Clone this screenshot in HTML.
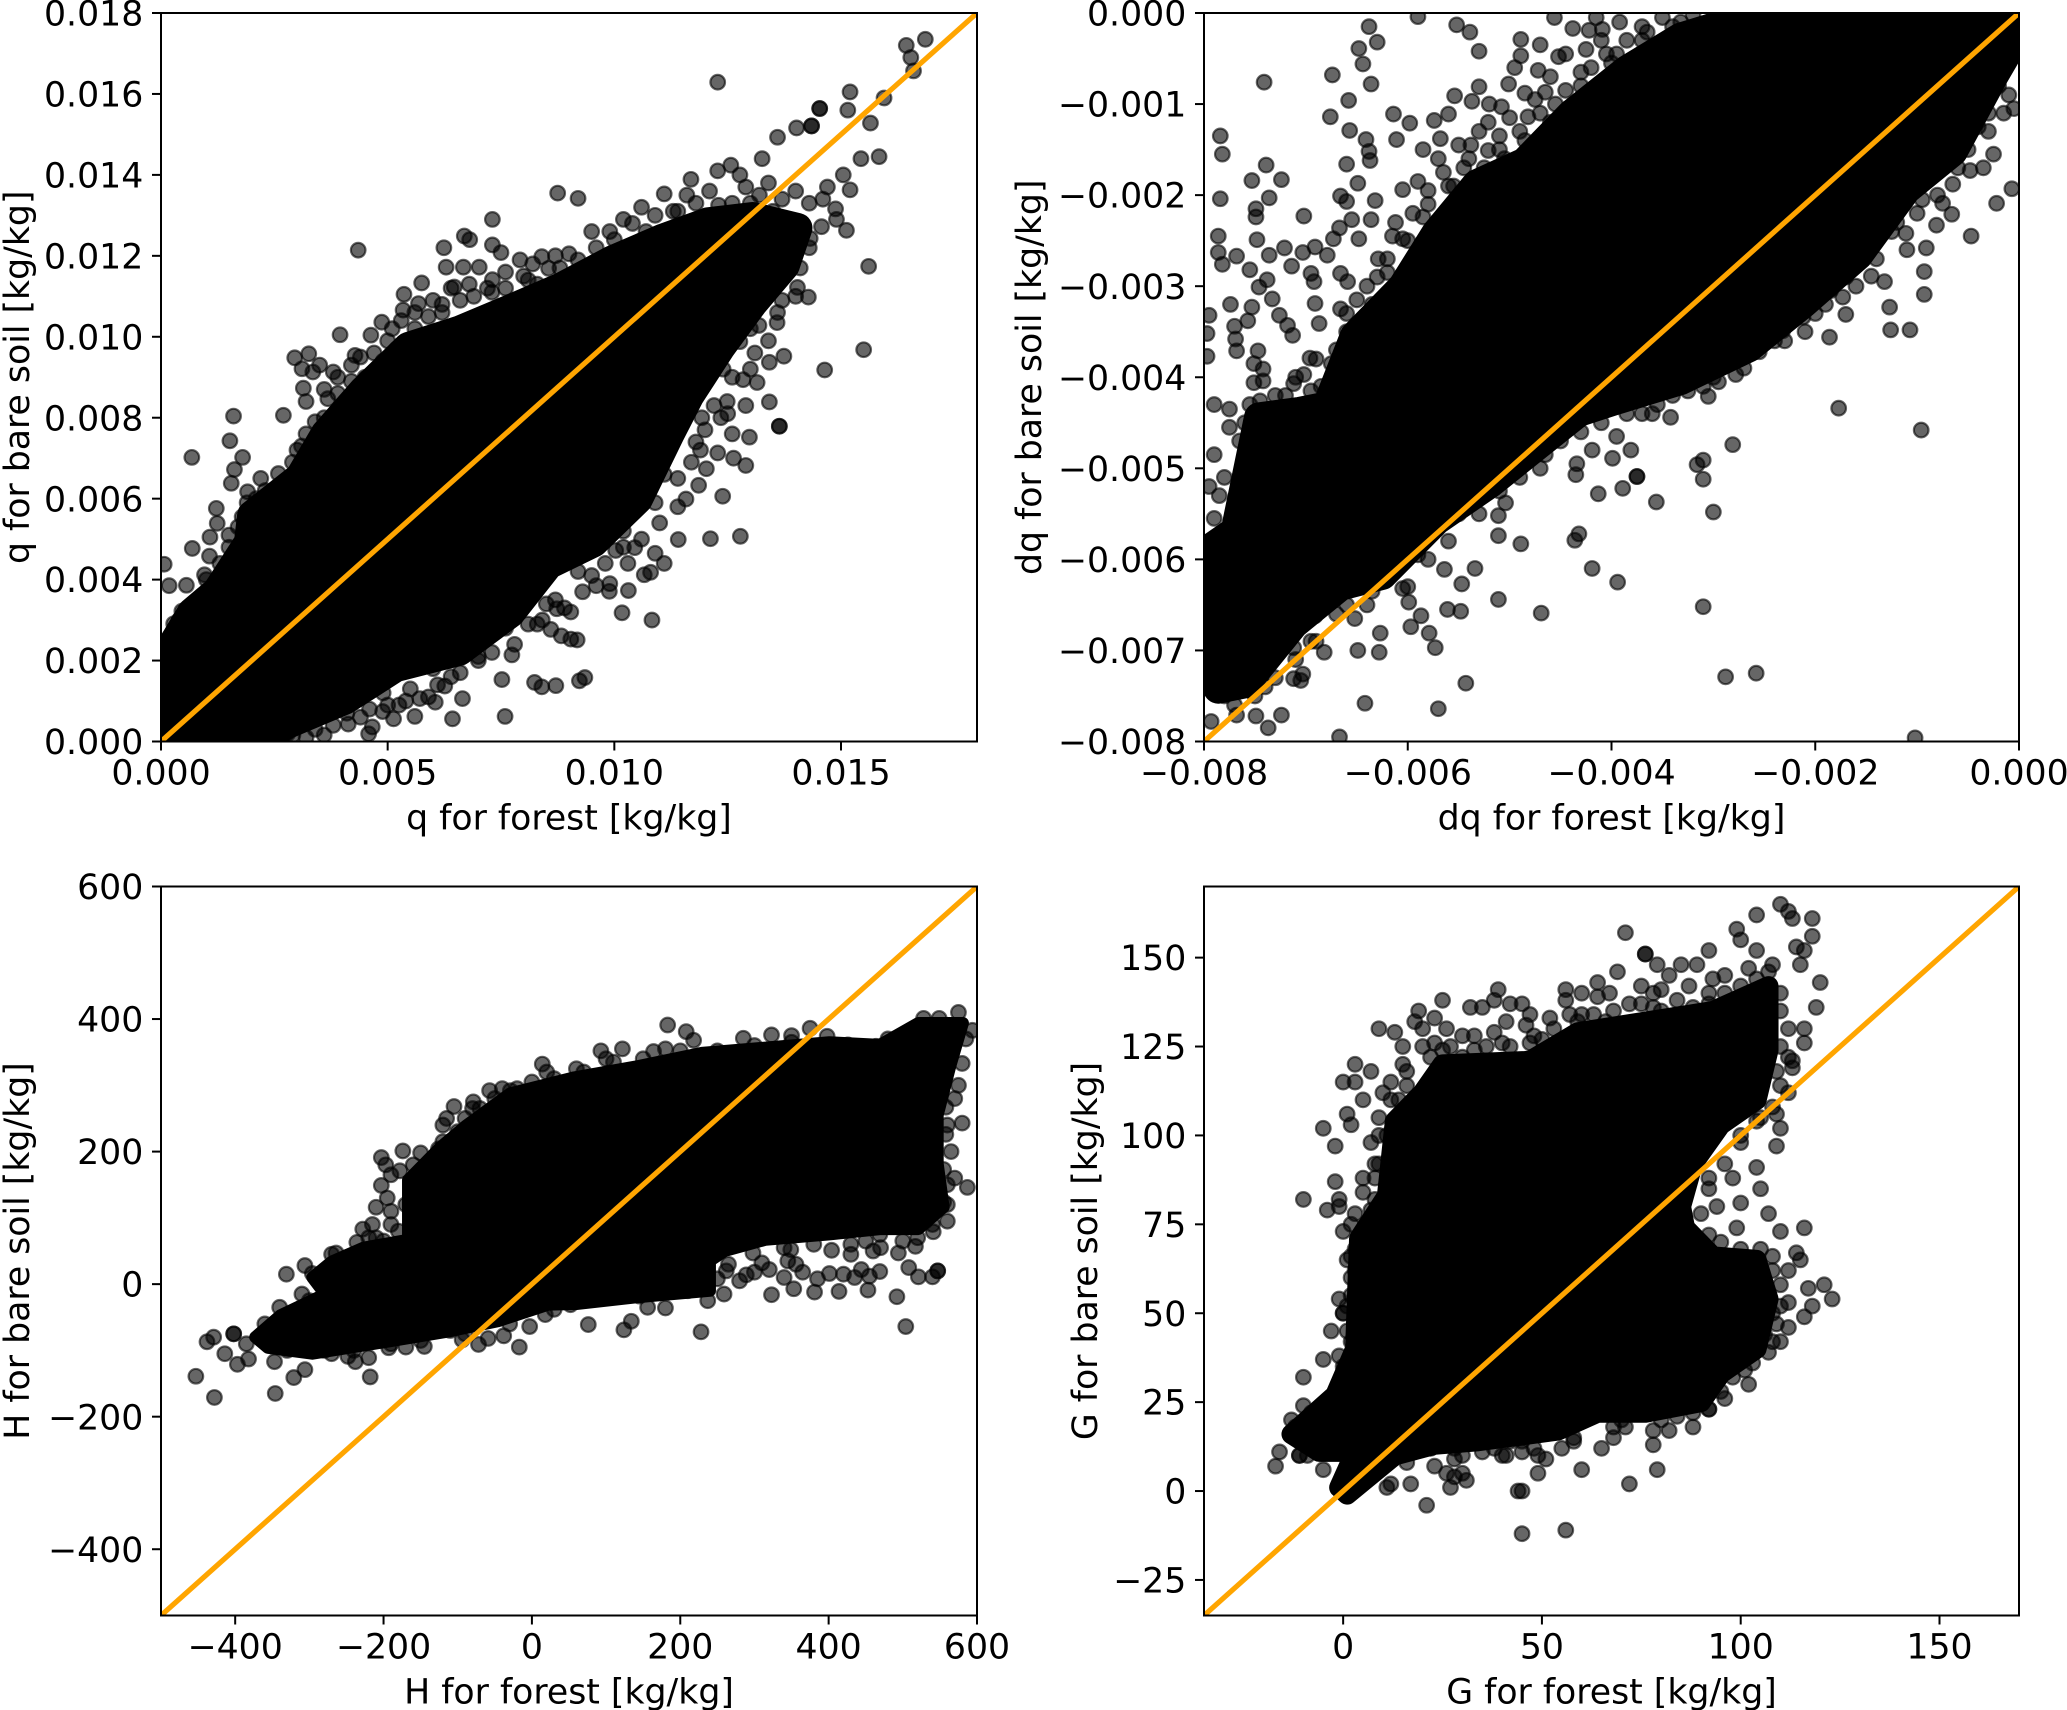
<!DOCTYPE html>
<html lang="en">
<head>
<meta charset="utf-8">
<title>Forest vs bare soil scatter comparison</title>
<style>
html,body{margin:0;padding:0;background:#fff;}
svg{display:block;}
text{font-family:"DejaVu Sans","Liberation Sans",sans-serif;font-size:34.7px;fill:#000;}
</style>
</head>
<body>
<svg id="fig" xmlns="http://www.w3.org/2000/svg" width="2067" height="1710" viewBox="0 0 2067 1710">
<rect width="2067" height="1710" fill="#fff"/>
</svg>
<script>
/* ---------- panel 1: q (values in 1e-3 kg/kg) ---------- */
const qXTicks = [0,5,10,15];
const qXLabels = ["0.000","0.005","0.010","0.015"];
const qYTicks = [0,2,4,6,8,10,12,14,16,18];
const qYLabels = ["0.000","0.002","0.004","0.006","0.008","0.010","0.012","0.014","0.016","0.018"];
const qCore = [[0,1.9],[.68,3.18],[1.24,3.71],[1.94,4.92],[2.01,5.59],[3.07,6.53],[3.63,7.6],[4.47,8.67],[5.46,9.75],[6.58,10.15],[7.71,10.68],[8.83,11.22],[9.96,11.89],[11.08,12.43],[12.07,12.83],[13.05,12.96],[14.04,12.69],[13.76,11.76],[13.05,10.82],[12.35,9.75],[11.65,8.54],[11.22,7.6],[10.52,5.99],[9.54,4.92],[8.55,4.38],[7.71,3.18],[6.58,2.24],[5.18,1.84],[4.05,1.03],[2.78,.43],[2.08,0],[0,0]];
const qPoints = [[16.86,17.35],[16.44,17.2],[16.54,16.9],[16.6,16.57],[12.28,16.29],[15.95,15.9],[15.2,16.05],[15.15,15.6],[14.53,15.64],[14.53,15.64],[15.65,15.28],[14.02,15.16],[14.35,15.21],[14.35,15.21],[13.6,14.93],[15.44,14.4],[15.84,14.45],[15.05,14],[13.26,14.4],[12.57,14.24],[12.28,14.1],[12.77,14],[15.2,13.63],[15.12,12.63],[15.61,11.74],[15.5,9.68],[14.64,9.18],[13.64,7.79],[13.64,7.79],[13.74,9.52],[13.42,9.37],[13.15,8.87],[13.42,8.39],[12.98,7.52],[12.9,6.82],[12.03,6.74],[12.39,6.06],[12.78,5.07],[12.12,5.01],[11.41,4.99],[11.1,4.4],[10.83,3],[10.17,3.18],[10.31,3.73],[14.28,10.98],[13.59,10.35],[14.57,12.72],[11.1,13.53],[11.69,13.89],[8.75,13.55],[9.2,13.42],[7.31,12.9],[4.35,12.14],[6.69,12.49],[6.81,12.4],[6.24,12.2],[7.31,12.27],[7.5,12.08],[7.92,11.9],[8.4,11.98],[8.55,11.69],[6.29,11.72],[6.67,11.72],[7.02,11.72],[5.75,11.33],[6.47,11.23],[5.36,11.05],[7.31,11.41],[5.34,10.66],[5.68,10.82],[4.87,10.36],[3.95,10.05],[4.63,10.04],[3.26,9.58],[2.95,9.48],[3.11,9.21],[3.35,9.13],[3.8,9.13],[3.14,8.73],[4.28,9.54],[3.68,8.47],[2.7,8.06],[1.6,8.04],[1.52,7.43],[1.8,7.02],[.68,7.02],[1.62,6.72],[1.55,6.38],[1.91,6.17],[1.22,5.76],[1.79,5.55],[1.24,5.39],[1.08,5.05],[.69,4.77],[1.07,4.58],[1.77,4.65],[.07,4.38],[.18,3.85],[.56,3.86],[.96,4.12],[.28,2.91],[.46,3.22],[2.59,6.62],[9.18,2.51],[9.04,2.53],[8.83,2.61],[8.6,2.77],[9.04,3.2],[8.73,3.28],[8.41,3],[9.35,1.58],[9.23,1.5],[8.71,1.38],[8.4,1.35],[8.24,1.46],[7.74,2.14],[7.52,1.53],[7.59,.62],[6.65,1.06],[6.43,.56],[6.26,1.37],[6.05,.97],[5.6,.62],[5.71,1.06],[5.25,.9],[5.13,.56],[4.58,.19],[4.66,.36],[4.89,.74],[4.13,.43],[3.6,.16],[2.91,.16],[2.36,.2],[7,2],[6.86,2.44],[9.6,3.85],[9.89,3.71],[10.66,4.12],[10.8,4.18],[10.45,4.79],[10.9,4.65],[10.03,4.72],[11.58,5.99],[11.86,6.33],[12.28,7.13],[12.63,7],[12.35,8],[11.93,8],[12.49,8.4],[12.84,8.94],[13.19,10.28],[12.77,9.88],[14.04,11.22],[13.9,11.89],[14.32,12.43],[14.88,13.16],[13.5,13.1],[13,13.3],[12.3,13.25],[11.4,13.1],[10.7,12.6],[9.9,12.6],[9,12.05],[8.1,11.4],[7.3,11.1],[6.2,10.8],[5.1,10.2],[4.4,9.5],[3.6,8],[3,7.2],[2.3,6.2],[1.5,4.8],[.9,3.6],[13.4,11.5],[13,10.2],[12.4,9.2],[11.8,7.4],[11.1,6.6],[10.2,5.2],[9.2,4.2],[8,3.4],[7.2,2.6],[6,1.8],[4.9,1.2],[3.5,.7],[3.1,7.3],[3.4,7.9],[3.2,8.4],[3.6,8.7],[3.9,9],[4.2,9.3],[4.5,9],[4.7,9.6],[5,9.9],[5.3,10.4],[5.6,10.2],[5.9,10.5],[6.2,10.6],[6.6,10.9],[6.9,11],[7.2,11.2],[7.6,11.2],[8,11.5],[8.3,11.3],[8.8,11.7],[9.2,11.9],[9.6,12.2],[10,12.4],[10.4,12.8],[10.9,13],[11.3,13.1],[11.8,13.3],[12.6,13.3],[13.2,13.5],[13.7,13.4],[2.2,6.5],[2.4,5.9],[13.6,10.6],[13.1,9.6],[12.6,9],[12.2,8.3],[11.9,7.2],[11.4,6.5],[10.9,5.9],[10.2,4.8],[9.8,4.4],[9.3,3.7],[8.7,3.5],[8.3,2.9],[7.8,2.4],[7.3,2.2],[6.6,1.7],[6.1,1.4],[5.5,1.3],[5,.9],[4.4,.6],[3.8,.4],[3.2,.1],[3.5,9.3],[3.9,8.6],[4.2,8.9],[4.6,8.9],[4.9,9.4],[5.2,9.7],[3.2,7.6],[3.5,7.3],[2.9,6.9],[2.6,6.1],[2.1,6],[1.9,5.9],[1.7,5.3],[1.5,5.1],[1.3,4.4],[1,4],[.8,3.5],[.4,3],[.2,2.6],[5.6,10.6],[6,10.9],[6.4,11.2],[6.8,11.3],[7.6,11.6],[8.2,11.8],[8.7,12],[9.5,12.6],[10.2,12.9],[10.6,13.2],[11.6,13.5],[12.1,13.6],[12.9,13.7],[13.4,13.8],[14,13.6],[14.3,13.3],[14.6,13.4],[14.7,13.7],[14.9,12.9],[14.3,12.2],[14.1,11.7],[14,11],[13.7,10.9],[13.4,9.9],[13,9.2],[12.9,8.3],[12.5,8.1],[12.6,7.6],[12,7.7],[11.7,6.9],[11.4,5.8],[11,5.4],[10.6,5],[10.3,4.4],[9.9,3.9],[9.5,4.1],[8.9,3.3],[8.5,3.4],[8.1,2.9],[7.6,2.8],[7,2.1],[6.4,1.6],[5.9,1.1],[5.4,1],[4.6,.8],[4.1,.7],[3.4,.3],[2.8,.2]];

/* ---------- panel 2: dq (values in 1e-3 kg/kg) ---------- */
const dqXTicks = [-8,-6,-4,-2,0];
const dqXLabels = ["\u22120.008","\u22120.006","\u22120.004","\u22120.002","0.000"];
const dqYTicks = [-8,-7,-6,-5,-4,-3,-2,-1,0];
const dqYLabels = ["\u22120.008","\u22120.007","\u22120.006","\u22120.005","\u22120.004","\u22120.003","\u22120.002","\u22120.001","0.000"];
const dqCore = [[-8,-7.18],[-8,-5.93],[-7.69,-5.69],[-7.46,-4.44],[-7.06,-4.38],[-6.79,-4.32],[-6.52,-3.55],[-6.05,-3.01],[-5.72,-2.42],[-5.32,-1.88],[-4.85,-1.64],[-4.39,-1.11],[-3.85,-.63],[-3.32,-.27],[-2.65,-.04],[-1.98,0],[0,0],[0,-.21],[-.25,-.69],[-.65,-1.52],[-1.11,-1.94],[-1.58,-2.66],[-2.12,-3.19],[-2.65,-3.67],[-3.32,-4.03],[-3.99,-4.26],[-4.32,-4.38],[-4.79,-4.8],[-5.19,-5.16],[-5.72,-5.57],[-6.25,-6.17],[-6.66,-6.29],[-7.12,-6.71],[-7.59,-7.36],[-7.86,-7.42]];
const dqPoints = [[-7.41,-.76],[-7.84,-1.35],[-7.82,-1.55],[-7.84,-2.04],[-7.86,-2.45],[-7.86,-2.63],[-7.82,-2.76],[-7.68,-2.67],[-7.53,-1.84],[-7.39,-1.67],[-7.24,-1.83],[-7.36,-2.03],[-7.49,-2.15],[-7.49,-2.24],[-7.02,-2.23],[-7.48,-2.49],[-7.21,-2.58],[-7.36,-2.66],[-7.55,-2.82],[-7.14,-2.78],[-7.03,-2.63],[-6.91,-2.57],[-6.79,-2.66],[-6.95,-2.86],[-6.92,-2.95],[-7.38,-2.93],[-7.46,-3.01],[-7.33,-3.14],[-7.74,-3.2],[-7.53,-3.23],[-7.95,-3.32],[-7.57,-3.38],[-7.26,-3.32],[-7.18,-3.43],[-7.13,-3.54],[-7.7,-3.44],[-7.69,-3.58],[-7.68,-3.71],[-7.47,-3.71],[-7.51,-3.85],[-7.42,-3.91],[-7.51,-4.06],[-7.42,-4.04],[-7.97,-3.52],[-7.97,-3.77],[-7.45,-4.26],[-7.12,-4.07],[-7.02,-3.97],[-6.96,-3.79],[-6.87,-3.41],[-6.66,-3.25],[-6.91,-3.19],[-6.66,-2.86],[-6.59,-2.95],[-6.48,-2.48],[-6.73,-2.48],[-6.67,-2.36],[-6.55,-2.27],[-6.66,-2.01],[-6.6,-2.07],[-6.49,-1.87],[-6.6,-1.66],[-6.76,-1.14],[-6.58,-.96],[-6.74,-.68],[-6.44,-.56],[-6.48,-.39],[-6.3,-.32],[-6.38,-.15],[-6.36,-.78],[-6.57,-1.29],[-6.41,-1.39],[-6.38,-1.52],[-6.37,-1.62],[-6.11,-1.39],[-6.14,-1.11],[-5.98,-1.21],[-5.74,-1.18],[-5.68,-1.38],[-5.6,-1.11],[-5.9,-.04],[-5.52,-.13],[-5.39,-.21],[-5.3,-.42],[-4.89,-.29],[-4.89,-.47],[-4.72,-.63],[-5.3,-.81],[-5.54,-.91],[-5.37,-.97],[-5.01,-.78],[-4.85,-.88],[-5.08,-1.03],[-5.21,-1.2],[-5.38,-1.45],[-5.21,-1.51],[-4.56,-.05],[-4.38,-.17],[-4.22,-.19],[-4.52,-.48],[-4.65,-.87],[-4.82,-1.14],[-4.09,-.18],[-3.92,-.1],[-3.65,-.21],[-3.32,-.1],[-4.05,-.45],[-3.79,-.63],[-6.36,-2.27],[-6.32,-2.06],[-6.05,-1.94],[-6.12,-2.3],[-6.29,-2.7],[-6.05,-2.48],[-5.85,-2.24],[-.07,-1.93],[-.22,-2.09],[-.47,-2.45],[-.66,-2.21],[-.75,-2.09],[-.81,-2.33],[-.91,-2.58],[-.93,-2.84],[-.93,-3.09],[-1.07,-3.48],[-1.26,-3.48],[-1.27,-3.23],[-1.7,-3.31],[-1.86,-3.56],[-1.73,-3.12],[-1.77,-4.34],[-.96,-4.58],[-2.81,-4.74],[-3.05,-4.21],[-3.42,-4.44],[-3.1,-4.91],[-3.16,-4.96],[-3.1,-5.12],[-3,-5.48],[-3.56,-5.37],[-3.75,-5.09],[-3.75,-5.09],[-3.89,-5.22],[-4.13,-5.28],[-4.32,-5.72],[-4.36,-5.79],[-4.19,-6.1],[-3.94,-6.25],[-3.1,-6.52],[-2.88,-7.29],[-2.58,-7.25],[-1.02,-7.96],[-4.89,-5.83],[-5.11,-5.74],[-5.11,-5.52],[-5.04,-5.38],[-5.1,-5.25],[-5.64,-6.11],[-5.34,-6.1],[-5.47,-6.27],[-5.11,-6.44],[-4.69,-6.59],[-5.61,-6.55],[-5.48,-6.57],[-5.87,-6.62],[-5.97,-6.74],[-5.79,-6.81],[-5.73,-6.97],[-6.27,-6.81],[-6.28,-7.02],[-6.49,-7],[-6.82,-7.02],[-5.43,-7.36],[-5.7,-7.64],[-6.42,-7.58],[-6.67,-7.95],[-7.37,-7.85],[-7.24,-7.71],[-7.49,-7.72],[-7.68,-7.71],[-7.93,-7.78],[-7.05,-7.33],[-7.12,-7.31],[-7.03,-7.26],[-7.12,-6.97],[-6.91,-6.62],[-5.99,-6.47],[-6.05,-6.32],[-6.52,-6.65],[-3.18,-3.97],[-2.78,-3.97],[-2.55,-3.72],[-2.32,-3.49],[-2.12,-3.34],[-1.45,-2.89],[-1.32,-2.95],[-1.11,-2.42],[-.65,-1.88],[-.48,-1.73],[-.35,-1.7],[-.25,-1.55],[-.05,-1.05],[-.07,-.45],[-3.95,-4.65],[-3.81,-4.8],[-3.99,-4.89],[-4.19,-4.8],[-4.34,-4.95],[-4.35,-5.07],[-7.9,-4.3],[-7.75,-4.35],[-7.9,-4.85],[-7.8,-5.1],[-7.95,-5.2],[-7.7,-5.4],[-7.55,-4.9],[-7.6,-5.2],[-7.65,-4.7],[-7.3,-6.9],[-7.6,-7.1],[-7.8,-7.5],[-7.4,-7.4],[-6.95,-6.9],[-6.7,-6.6],[-6.35,-6.35],[-5.9,-5.95],[-4.7,-5],[-3.6,-4.4],[-2.95,-4.05],[-2.4,-3.6],[-1.9,-3.2],[-1.2,-2.3],[-.85,-1.75],[-.55,-1.2],[-.2,-.8],[-.35,-1],[-5.7,-1.6],[-5.55,-1.9],[-5.9,-1.85],[-5.25,-1.7],[-5.1,-1.35],[-4.7,-1.1],[-4.45,-.85],[-4.2,-.6],[-3.6,-.4],[-3,-.05],[-6.2,-2.85],[-6.35,-3.2],[-6.7,-3.7],[-6.85,-4.1],[-7.6,-4.5],[-7.3,-4.2],[-7.1,-4],[-6.9,-3.8],[-6.6,-3.3],[-6.4,-3],[-6.2,-2.7],[-6,-2.5],[-5.8,-2.1],[-5.6,-1.9],[-5.4,-1.6],[-5.1,-1.5],[-4.9,-1.3],[-4.6,-1.2],[-4.3,-.8],[-4,-.55],[-3.7,-.3],[-3.4,-.15],[-.3,-1.3],[-.5,-1.5],[-.8,-2],[-1.1,-2.6],[-1.4,-2.7],[-1.7,-2.9],[-2,-3.3],[-2.3,-3.6],[-2.7,-3.9],[-3.1,-4.1],[-3.4,-4.2],[-3.7,-4.4],[-4.1,-4.5],[-4.5,-4.7],[-4.9,-5.1],[-5.3,-5.5],[-5.6,-5.8],[-6,-6.3],[-6.4,-6.5],[-6.9,-6.9],[-7.3,-7.3],[-7.7,-7.6],[-7.95,-7.3],[-5.2,-1],[-5,-1.15],[-4.75,-.95],[-4.6,-.7],[-4.45,-.45],[-4.25,-.4],[-4.1,-.3],[-3.85,-.3],[-3.7,-.15],[-3.5,-.05],[-3.2,-.02],[-4.85,-1.4],[-5.05,-1.6],[-5.3,-1.3],[-5.45,-1.7],[-5.65,-1.75],[-5.8,-1.95],[-5.95,-2.2],[-6.15,-2.45],[-6.3,-2.9],[-6.5,-3.15],[-6.6,-3.5],[-6.75,-3.85],[-6.95,-4.15],[-7.2,-4.2],[-7.35,-4.35],[-7.55,-4.3],[-7.75,-4.55],[-7.85,-5.3],[-7.9,-5.55],[-7.5,-5],[-7.45,-5.4],[-5.5,-1.45],[-5.85,-1.5],[-4.55,-1],[-4.3,-.65],[-3.95,-.45],[-4.95,-.6],[-4.7,-.35],[-4.15,-.05],[-.1,-.9],[-.15,-1.1],[-.3,-1.1],[-.4,-1.25],[-.6,-1.7],[-.7,-1.55],[-.95,-2.05],[-1,-2.2],[-1.25,-2.4],[-1.5,-2.6],[-1.6,-3],[-1.85,-3.05],[-2.1,-3.5],[-2.2,-3.3],[-2.5,-3.6],[-2.85,-3.85],[-3,-4],[-3.25,-4.15],[-3.55,-4.3],[-3.85,-4.4],[-4.3,-4.6],[-4.65,-4.85],[-5.15,-5.2],[-5.5,-5.5],[-5.8,-6],[-6.2,-6.2],[-6.6,-6.5],[-7.1,-7.1],[-7.5,-7.5]];

/* ---------- panel 3: H ---------- */
const hXTicks = [-400,-200,0,200,400,600];
const hXLabels = ["\u2212400","\u2212200","0","200","400","600"];
const hYTicks = [-400,-200,0,200,400,600];
const hYLabels = ["\u2212400","\u2212200","0","200","400","600"];
const hCore = [[-373,-80],[-339,-47],[-279,-15],[-296,10],[-270,34],[-227,55],[-167,67],[-167,157],[-124,206],[-89,239],[-29,288],[57,312],[143,329],[229,349],[315,357],[401,365],[469,361],[521,394],[581,394],[564,329],[547,255],[547,182],[555,116],[521,83],[469,83],[401,75],[315,67],[260,50],[240,35],[240,-10],[140,-20],[60,-30],[22,-31],[-46,-56],[-115,-72],[-201,-88],[-296,-105],[-356,-96]];
const hPoints = [[-453,-139],[-428,-171],[-346,-165],[-321,-141],[-414,-105],[-438,-87],[-429,-80],[-402,-75],[-402,-75],[-397,-121],[-382,-113],[-347,-117],[-306,-129],[-331,15],[-306,28],[-296,16],[-218,-140],[-238,-117],[-220,-111],[-248,-109],[-270,-105],[-145,-94],[-270,45],[-264,47],[-228,83],[-236,63],[-210,116],[-203,149],[-203,191],[-197,180],[-190,165],[-178,171],[-174,201],[-150,198],[-126,204],[-115,250],[-105,268],[-79,275],[-57,292],[-29,292],[14,332],[93,352],[122,355],[183,391],[208,381],[218,368],[164,351],[285,371],[323,376],[375,386],[398,374],[426,361],[464,359],[501,373],[528,401],[549,401],[575,410],[594,383],[580,333],[580,243],[587,146],[558,267],[558,226],[555,173],[555,124],[541,79],[517,57],[494,47],[469,75],[547,20],[547,20],[540,11],[521,11],[508,25],[504,-64],[492,-19],[453,-9],[469,19],[444,22],[414,-11],[381,-12],[401,16],[353,-7],[323,-16],[356,30],[237,-25],[228,-72],[180,-36],[134,-56],[124,-69],[76,-61],[156,-35],[259,-15],[289,14],[404,51],[349,52],[298,47],[194,36],[-17,-95],[-38,-78],[-59,-82],[-72,-91],[-94,-84],[-3,-64],[18,-46],[52,-31],[100,-15],[-193,-96],[-283,-2],[60,10],[85,15],[110,5],[130,-5],[150,12],[170,5],[190,-8],[205,10],[225,15],[250,8],[262,20],[280,5],[300,18],[320,22],[340,10],[365,18],[385,8],[420,15],[435,10],[455,12],[100,-12],[145,-18],[210,-10],[35,-20],[75,25],[120,28],[170,28],[215,28],[265,30],[310,32],[345,35],[430,45],[460,50],[530,95],[560,150],[565,200],[570,280],[585,370],[-385,-90],[-360,-60],[-320,-50],[-300,-25],[-285,12],[-250,40],[-200,65],[-190,110],[-215,90],[-160,140],[-130,190],[-100,230],[-70,265],[-20,295],[30,310],[70,320],[110,335],[150,340],[200,352],[250,352],[300,360],[350,365],[440,355],[490,360],[-330,-100],[-280,-100],[-240,-100],[-190,-90],[-150,-85],[-110,-70],[-340,-35],[-310,-15],[-280,15],[-255,35],[-210,70],[-170,120],[-180,80],[-150,165],[-120,215],[-90,250],[-50,280],[0,305],[60,325],[560,120],[570,160],[560,240],[575,300],[540,90],[500,65],[470,55],[430,60],[380,60],[340,55],[-140,175],[-160,180],[-195,130],[-190,90],[-220,70],[-120,240],[-80,265],[-40,295],[20,320],[100,340],[180,355],[350,375],[480,370],[-240,20],[-260,10],[-330,-60],[-300,-90],[-260,-95],[-170,-95],[-90,-75],[-30,-60],[30,-38],[560,95],[520,70],[450,65]];

/* ---------- panel 4: G ---------- */
const gXTicks = [0,50,100,150];
const gXLabels = ["0","50","100","150"];
const gYTicks = [-25,0,25,50,75,100,125,150];
const gYLabels = ["\u221225","0","25","50","75","100","125","150"];
const gCore = [[-13,16],[-2,27],[3,40],[4,71],[11,83],[13,104],[20,112],[25,120],[47,121],[59,129],[76,132],[93,135],[107,142],[107,124],[104,110],[95,103],[88,92],[85,80],[86,74],[93,66],[104,65],[107,54],[104,40],[95,33],[90,25],[76,22],[64,22],[54,17],[34,14],[23,13],[13,10],[1,-1],[-1,1],[3,11],[-6,11]];
const gPoints = [[110,165],[112,163],[113,161],[118,161],[118,156],[104,162],[99,158],[100,155],[104,152],[92,152],[71,157],[76,151],[76,151],[69,146],[79,148],[85,148],[89,148],[114,153],[116,152],[115,148],[120,143],[119,136],[116,130],[116,126],[113,121],[113,119],[110,114],[112,112],[109,106],[110,102],[109,97],[104,91],[105,85],[100,81],[107,78],[99,74],[110,73],[116,74],[114,67],[115,65],[117,57],[121,58],[123,54],[118,52],[116,49],[112,53],[109,47],[107,39],[101,34],[92,23],[92,23],[84,21],[82,17],[78,13],[79,6],[72,2],[71,18],[65,12],[60,6],[56,-11],[45,-12],[45,0],[44,0],[49,5],[51,9],[49,10],[41,10],[42,14],[45,14],[21,-4],[23,7],[26,5],[28,4],[30,5],[31,3],[27,1],[17,2],[12,2],[11,1],[-1,2],[-5,6],[-17,7],[-16,11],[-11,10],[-11,10],[-13,20],[-10,32],[-5,37],[-3,45],[-1,54],[0,50],[0,50],[0,73],[2,75],[-4,79],[-1,82],[-10,82],[-1,80],[-2,87],[-2,97],[-5,102],[1,106],[2,103],[0,115],[3,115],[3,120],[9,130],[13,129],[15,125],[7,118],[5,110],[10,112],[8,92],[5,84],[7,79],[19,135],[18,132],[25,138],[23,133],[20,130],[26,130],[25,124],[32,136],[35,136],[39,141],[38,138],[42,137],[45,137],[47,134],[41,132],[33,128],[52,133],[56,141],[60,140],[56,138],[59,132],[64,143],[64,139],[67,140],[72,137],[75,142],[80,141],[82,145],[78,136],[87,142],[93,144],[96,145],[102,147],[108,148],[42,125],[47,126],[92,137],[-8,20],[-4,22],[-9,15],[-6,14],[1,30],[0,35],[1,45],[2,55],[3,62],[3,68],[8,88],[9,100],[12,110],[16,118],[22,122],[30,122],[36,125],[55,125],[66,132],[80,135],[100,138],[110,135],[110,125],[109,118],[100,100],[96,92],[92,85],[90,78],[92,72],[100,68],[108,62],[110,58],[108,50],[106,44],[100,38],[95,28],[85,25],[70,20],[58,15],[48,12],[38,12],[28,12],[22,12],[20,12],[16,8],[6,4],[8,6],[2,60],[1,65],[3,78],[5,88],[7,98],[9,105],[12,115],[15,120],[20,125],[27,125],[33,124],[40,126],[48,128],[53,130],[60,134],[68,135],[75,137],[84,138],[92,140],[100,142],[2,42],[-1,38],[0,30],[-3,26],[-8,22],[105,105],[100,98],[92,88],[90,70],[95,70],[105,68],[110,52],[108,42],[103,36],[96,26],[88,22],[80,20],[68,18],[58,14],[45,11],[35,11],[28,9],[16,11],[4,46],[1,52],[2,66],[6,75],[8,82],[9,92],[11,100],[14,110],[16,114],[23,126],[30,128],[38,129],[46,131],[50,127],[57,134],[63,134],[70,131],[78,140],[88,136],[96,140],[104,144],[107,146],[110,140],[112,130],[112,122],[108,108],[104,104],[98,88],[94,80],[90,66],[97,62],[103,62],[108,66],[112,62],[112,46],[110,42],[102,30],[98,32],[88,18],[78,17],[68,15],[55,12],[40,10],[30,10],[-2,24],[-10,24],[-12,18],[-4,12],[-9,10]];

/* ---------- layout ---------- */
const NS = 'http://www.w3.org/2000/svg';
const fig = document.getElementById('fig');

function linearScale(d0, d1, r0, r1) {
  return function (v) { return r0 + (v - d0) * (r1 - r0) / (d1 - d0); };
}

function addNode(parent, tag, attrs) {
  const el = document.createElementNS(NS, tag);
  for (const k in attrs) el.setAttribute(k, attrs[k]);
  parent.appendChild(el);
  return el;
}

function drawPanel(cfg) {
  const x = linearScale(cfg.xDomain[0], cfg.xDomain[1], cfg.left, cfg.right);
  const y = linearScale(cfg.yDomain[0], cfg.yDomain[1], cfg.bottom, cfg.top);

  const group = document.createElementNS(NS, 'g');
  
  
  fig.appendChild(group);

  const clip = addNode(group, 'clipPath', {id: cfg.name + '-clip'});
  addNode(clip, 'rect', {x: cfg.left, y: cfg.top, width: cfg.right - cfg.left, height: cfg.bottom - cfg.top});

  const marks = addNode(group, 'g', {'clip-path': 'url(#' + cfg.name + '-clip)'});
  
  

  const core = addNode(marks, 'polygon', {
    points: cfg.core.map(function (p) { return x(p[0]) + ',' + y(p[1]); }).join(' '),
    fill: '#000', stroke: '#000', 'stroke-width': cfg.coreEdge, 'stroke-linejoin': 'round'
  });
  
  

  cfg.points.forEach(function (p) {
    const dot = addNode(marks, 'circle', {
      cx: x(p[0]), cy: y(p[1]), r: 7.3,
      fill: '#000', 'fill-opacity': 0.6,
      stroke: '#000', 'stroke-opacity': 0.6, 'stroke-width': 2.2
    });
    
    
  });

  const lo = Math.max(cfg.xDomain[0], cfg.yDomain[0]);
  const hi = Math.min(cfg.xDomain[1], cfg.yDomain[1]);
  const ref = addNode(marks, 'line', {
    x1: x(lo), y1: y(lo), x2: x(hi), y2: y(hi),
    stroke: '#ffa500', 'stroke-width': 5.2
  });
  
  

  const frame = addNode(group, 'rect', {
    x: cfg.left, y: cfg.top, width: cfg.right - cfg.left, height: cfg.bottom - cfg.top,
    fill: 'none', stroke: '#000', 'stroke-width': 2
  });
  
  

  cfg.xTicks.forEach(function (t, i) {
    const tick = addNode(group, 'line', {x1: x(t), x2: x(t), y1: cfg.bottom, y2: cfg.bottom + 9, stroke: '#000', 'stroke-width': 2});
    
    
    const label = addNode(group, 'text', {x: x(t), y: cfg.bottom + 43, 'text-anchor': 'middle'});
    label.textContent = cfg.xLabels[i];
    
    
  });

  cfg.yTicks.forEach(function (t, i) {
    const tick = addNode(group, 'line', {x1: cfg.left - 9, x2: cfg.left, y1: y(t), y2: y(t), stroke: '#000', 'stroke-width': 2});
    
    
    const label = addNode(group, 'text', {x: cfg.left - 17.7, y: y(t) + 12.6, 'text-anchor': 'end'});
    label.textContent = cfg.yLabels[i];
    
    
  });

  const xt = addNode(group, 'text', {x: (cfg.left + cfg.right) / 2, y: cfg.bottom + 88, 'text-anchor': 'middle'});
  xt.textContent = cfg.xTitle;
  
  

  const cy = (cfg.top + cfg.bottom) / 2;
  const yt = addNode(group, 'text', {x: cfg.titleX, y: cy, 'text-anchor': 'middle', transform: 'rotate(-90 ' + cfg.titleX + ' ' + cy + ')'});
  yt.textContent = cfg.yTitle;
  
  
}

drawPanel({name:'q', left:161, right:977, top:13, bottom:741.5, titleX:29, coreEdge:30,
  xDomain:[0,18], yDomain:[0,18], xTicks:qXTicks, xLabels:qXLabels, yTicks:qYTicks, yLabels:qYLabels,
  core:qCore, points:qPoints, xTitle:'q for forest [kg/kg]', yTitle:'q for bare soil [kg/kg]'});
drawPanel({name:'dq', left:1204, right:2019, top:13, bottom:741.5, titleX:1041, coreEdge:30,
  xDomain:[-8,0], yDomain:[-8,0], xTicks:dqXTicks, xLabels:dqXLabels, yTicks:dqYTicks, yLabels:dqYLabels,
  core:dqCore, points:dqPoints, xTitle:'dq for forest [kg/kg]', yTitle:'dq for bare soil [kg/kg]'});
drawPanel({name:'h', left:161, right:977, top:886.5, bottom:1615.5, titleX:29, coreEdge:12,
  xDomain:[-500,600], yDomain:[-500,600], xTicks:hXTicks, xLabels:hXLabels, yTicks:hYTicks, yLabels:hYLabels,
  core:hCore, points:hPoints, xTitle:'H for forest [kg/kg]', yTitle:'H for bare soil [kg/kg]'});
drawPanel({name:'g', left:1204, right:2019, top:886.5, bottom:1615.5, titleX:1097, coreEdge:20,
  xDomain:[-35,170], yDomain:[-35,170], xTicks:gXTicks, xLabels:gXLabels, yTicks:gYTicks, yLabels:gYLabels,
  core:gCore, points:gPoints, xTitle:'G for forest [kg/kg]', yTitle:'G for bare soil [kg/kg]'});
</script>
</body>
</html>
